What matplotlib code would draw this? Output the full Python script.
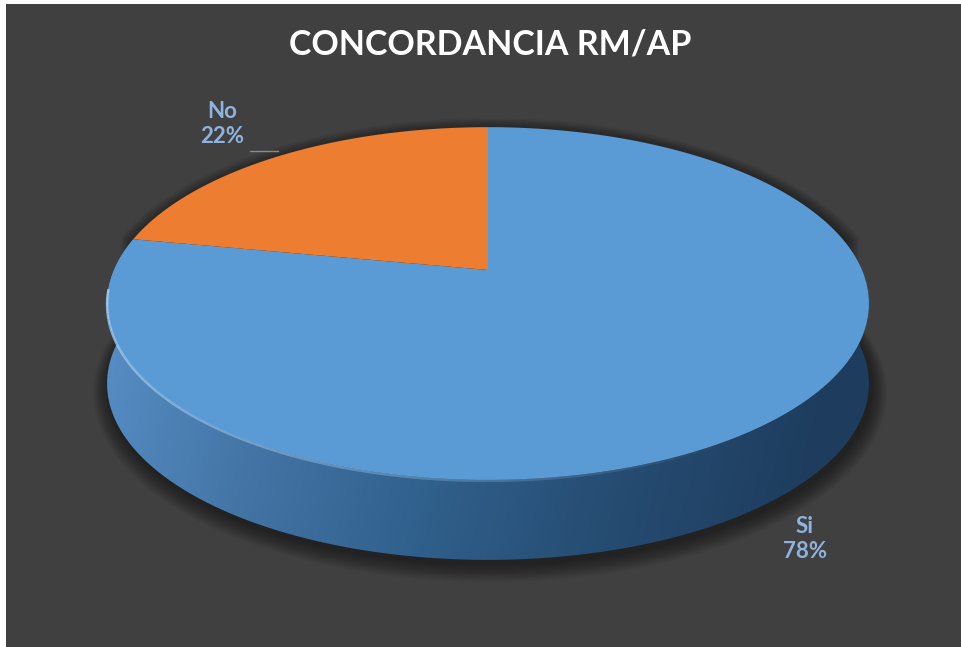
import numpy as np
import matplotlib
matplotlib.use("Agg")
import matplotlib.pyplot as plt
from matplotlib.patches import Polygon, Rectangle

# data
labels = ["Si", "No"]
values = [78, 22]
colors = ["#5b9bd5", "#ed7d31"]
title = "CONCORDANCIA RM/AP"

# layout (pixels)
W, H = 961, 647
cx, cy = 488, 270          # projected centre of the top face
sx, sy = 374, 170          # scale of the disc
k = 0.19                   # perspective factor
depth = 80                 # thickness of the disc
bg = "#404040"


def project(theta_deg, r=1.0):
    t = np.radians(theta_deg)
    X, Y = r * np.cos(t), r * np.sin(t)
    w = 1 + k * Y
    return cx + sx * X / w, cy - sy * Y / w


fig = plt.figure(figsize=(W / 100, H / 100), dpi=100)
fig.patch.set_facecolor(bg)
ax = fig.add_axes([0, 0, 1, 1])
ax.set_xlim(0, W)
ax.set_ylim(H, 0)
ax.axis("off")
# white strip on the left and top edges
ax.add_patch(Rectangle((0, 0), 6, H, facecolor="white", edgecolor="none", zorder=10))
ax.add_patch(Rectangle((0, 0), W, 4, facecolor="white", edgecolor="none", zorder=10))

# angle where the disc is widest; the side band runs between these
t_side = np.degrees(np.arcsin(-k))
back_ang = np.linspace(-t_side, 180 + t_side, 200)
bx, by = project(back_ang)
side_a = np.linspace(180 + t_side, 360 - t_side, 300)
ax_, ay_ = project(side_a)

# soft shadow around the disc
shape = np.vstack([np.column_stack([bx, by]), np.column_stack([ax_, ay_ + depth])])
mx, my = cx, cy + 40
for i in range(12, 0, -1):
    pts = shape.copy()
    pts[:, 0] = mx + 2 + (pts[:, 0] - mx) * (1 + i * 0.0035)
    pts[:, 1] = my + 4 + (pts[:, 1] - my) * (1 + i * 0.006)
    ax.add_patch(Polygon(pts, closed=True, facecolor="black", alpha=0.045, edgecolor="none"))

# side band with horizontal gradient
side = np.vstack([np.column_stack([ax_, ay_]), np.column_stack([ax_[::-1], ay_[::-1] + depth])])
side_poly = Polygon(side, closed=True, facecolor="none", edgecolor="none")
ax.add_patch(side_poly)
grad_cols = matplotlib.colors.LinearSegmentedColormap.from_list(
    "side", ["#5890c8", "#4475a6", "#30608c", "#264c72", "#1e3d5e"])
xmin, xmax = ax_.min(), ax_.max()
g = np.linspace(0, 1, 256)[None, :] * np.ones((20, 1))
v = np.linspace(0, 0.1, 20)[:, None]
img = ax.imshow(np.clip(g + v, 0, 1), cmap=grad_cols, extent=[xmin, xmax, ay_.max() + depth, ay_.min()],
                aspect="auto", interpolation="bilinear", zorder=2)
img.set_clip_path(side_poly)

# top face wedges, clockwise from 12 o'clock
total = sum(values)
start = 90.0
for lab, val, col in zip(labels, values, colors):
    end = start - 360.0 * val / total
    a = np.linspace(start, end, 300)
    px, py = project(a)
    pts = np.vstack([[cx, cy], np.column_stack([px, py])])
    ax.add_patch(Polygon(pts, closed=True, facecolor=col, edgecolor="none", zorder=3))
    start = end

# light rim along the front edge of the top face, fading to the right
hl_a = np.linspace(186, 300, 60)
hx, hy = project(hl_a)
for j in range(len(hl_a) - 1):
    ax.plot(hx[j:j + 2], hy[j:j + 2] + 1, color="#a6d0f5", lw=1.8,
            alpha=0.85 * (1 - j / len(hl_a)), zorder=4, solid_capstyle="butt")

# title and data labels
ax.text(490, 45, title, color="white", fontsize=24.5, fontweight="bold",
        family="Lato", ha="center", va="center")
lab_col = "#8db3de"
ax.text(222, 124, "No\n22%", color=lab_col, fontsize=16, fontweight="bold", family="Lato",
        ha="center", va="center", linespacing=1.25)
ax.text(805, 539, "Si\n78%", color=lab_col, fontsize=16, fontweight="bold", family="Lato",
        ha="center", va="center", linespacing=1.25)
ax.plot([250, 278], [151, 151], color="#8a8a8a", lw=1, zorder=5)

fig.savefig("out.png", dpi=100, facecolor=fig.get_facecolor())
